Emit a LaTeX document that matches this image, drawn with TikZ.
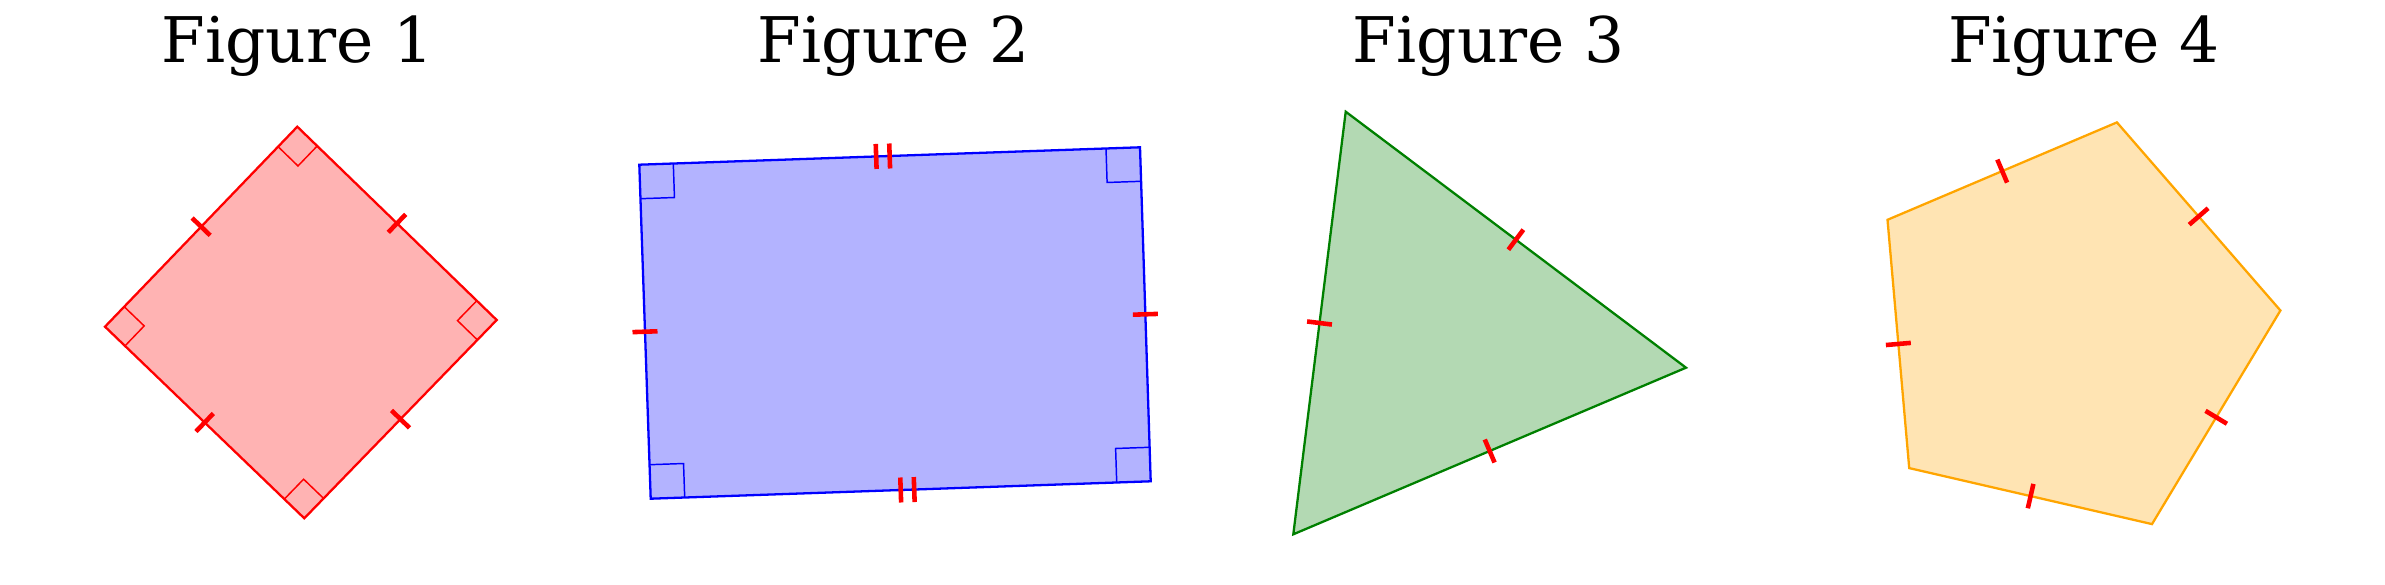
\documentclass[tikz,border=0pt]{standalone}
\usepackage{tikz}
\usepackage{fontspec}
\setmainfont{DejaVu Serif}
\usetikzlibrary{calc}
\definecolor{sqfill}{HTML}{FFB3B3}
\definecolor{rcfill}{HTML}{B3B3FF}
\definecolor{trfill}{HTML}{B3D9B3}
\definecolor{pgfill}{HTML}{FFE4B3}
\definecolor{trline}{HTML}{008000}
\definecolor{pgline}{HTML}{FFA500}
\tikzstyle{title}=[font=\fontsize{17.9}{21}\selectfont,anchor=base,inner sep=0pt]
\tikzstyle{outline}=[line width=0.65pt,line join=miter]
\tikzstyle{tickmark}=[draw=red,line width=1.3pt]
\tikzstyle{rightmark}=[line width=0.42pt]
% one tick across the middle of side #1--#2
\newcommand{\sidetick}[2]{\draw[tickmark] ($(#1)!0.5!(#2)!0.125cm!90:(#2)$) -- ($(#1)!0.5!(#2)!0.125cm!-90:(#2)$);}
% two ticks, the second a little towards #2
\newcommand{\sideticktwo}[2]{\sidetick{#1}{#2}
  \coordinate (m) at ($(#1)!0.5!(#2)!0.135cm!(#2)$);
  \draw[tickmark] ($(m)!0.125cm!90:(#2)$) -- ($(m)!0.125cm!-90:(#2)$);}
% right angle at corner #1 between #2 and #3, size #4
\newcommand{\rightangle}[4]{\draw[rightmark] ($(#1)!#4!(#2)$) -- ($(#1)!#4!(#2)+(#1)!#4!(#3)-(#1)$) -- ($(#1)!#4!(#3)$);}

\begin{document}
\begin{tikzpicture}[x=0.01cm,y=-0.01cm]
    \useasboundingbox (0,0) rectangle (2385,585);
    % Titles
    \foreach \x/\n in {297.5/1, 894/2, 1489/3, 2084/4}
        \node[title] (fig\n) at (\x,63) {Figure \n};

    % Figure 1: the square
    \coordinate (sqT) at (297.3,126.7);
    \coordinate (sqL) at (105,326.7);
    \coordinate (sqB) at (304.3,518.3);
    \coordinate (sqR) at (496.7,320);
    \path[outline,fill=sqfill,draw=red] (sqT) -- (sqL) -- (sqB) -- (sqR) -- cycle;
    \begin{scope}[red]
        \rightangle{sqT}{sqL}{sqR}{0.277cm}
        \rightangle{sqL}{sqB}{sqT}{0.277cm}
        \rightangle{sqB}{sqR}{sqL}{0.277cm}
        \rightangle{sqR}{sqT}{sqB}{0.277cm}
    \end{scope}
    \foreach \source/\dest in {sqT/sqL, sqL/sqB, sqB/sqR, sqR/sqT}
        {\sidetick{\source}{\dest}}

    % Figure 2: the rectangle
    \coordinate (rcTL) at (639.3,164.7);
    \coordinate (rcBL) at (650.7,498.7);
    \coordinate (rcBR) at (1150.7,481.3);
    \coordinate (rcTR) at (1140,147.3);
    \path[outline,fill=rcfill,draw=blue] (rcTL) -- (rcBL) -- (rcBR) -- (rcTR) -- cycle;
    \begin{scope}[blue]
        \rightangle{rcTL}{rcBL}{rcTR}{0.34cm}
        \rightangle{rcBL}{rcBR}{rcTL}{0.34cm}
        \rightangle{rcBR}{rcTR}{rcBL}{0.34cm}
        \rightangle{rcTR}{rcTL}{rcBR}{0.34cm}
    \end{scope}
    \sidetick{rcTL}{rcBL}
    \sidetick{rcBR}{rcTR}
    \sideticktwo{rcBL}{rcBR}
    \sideticktwo{rcTR}{rcTL}

    % Figure 3: the triangle
    \coordinate (trA) at (1345.7,111.7);
    \coordinate (trC) at (1293.3,534.3);
    \coordinate (trB) at (1686,367.7);
    \path[outline,fill=trfill,draw=trline] (trA) -- (trC) -- (trB) -- cycle;
    \foreach \source/\dest in {trA/trC, trC/trB, trB/trA}
        {\sidetick{\source}{\dest}}

    % Figure 4: the pentagon
    \coordinate (pg1) at (2116.9,122.4);
    \coordinate (pg2) at (1887.5,219.8);
    \coordinate (pg3) at (1909.2,468.1);
    \coordinate (pg4) at (2152.0,524.1);
    \coordinate (pg5) at (2280.4,310.5);
    \path[outline,fill=pgfill,draw=pgline] (pg1) -- (pg2) -- (pg3) -- (pg4) -- (pg5) -- cycle;
    \foreach \source/\dest in {pg1/pg2, pg2/pg3, pg3/pg4, pg4/pg5, pg5/pg1}
        {\sidetick{\source}{\dest}}
\end{tikzpicture}
\end{document}
